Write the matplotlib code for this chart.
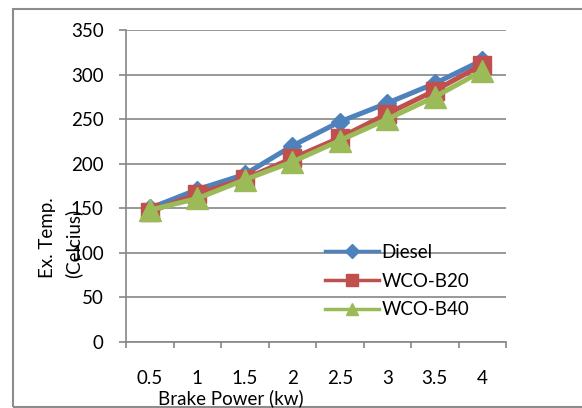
import matplotlib

matplotlib.use("Agg")
import matplotlib.pyplot as plt
from matplotlib.lines import Line2D
from matplotlib.patches import Rectangle
import numpy as np

# Data
brake_power = ["0.5", "1", "1.5", "2", "2.5", "3", "3.5", "4"]
diesel = [150, 171, 188, 220, 247, 268, 290, 316]
wco_b20 = [146, 166, 183, 206, 229, 256, 282, 311]
wco_b40 = [148, 161, 182, 202, 226, 250, 275, 304]
y_ticks = [0, 50, 100, 150, 200, 250, 300, 350]

BLUE = "#4F81BD"
RED = "#C0504D"
GREEN = "#9BBB59"
GRID = "#868686"
FS = 13.5

plt.rcParams["font.family"] = ["Lato", "DejaVu Sans"]

W, H = 582, 408
fig = plt.figure(figsize=(W / 100, H / 100), dpi=100)
fig.patch.set_facecolor("white")

# outer chart border (runs off the right edge in the reference)
fig.add_artist(Rectangle((13 / W, 1 - 407 / H), 1.2, (407 - 9) / H,
                         transform=fig.transFigure, fill=False,
                         edgecolor="#8c8c8c", linewidth=1.5))

ax = fig.add_axes([126 / W, 1 - 342 / H, (506 - 126) / W, (342 - 30) / H])

x = np.arange(len(brake_power))
series = [("Diesel", diesel, BLUE, "D", 9, 7),
          ("WCO-B20", wco_b20, RED, "s", 13, 8.5),
          ("WCO-B40", wco_b40, GREEN, "^", 16, 8)]
handles = []
for name, vals, col, mk, ms, lms in series:
    ax.plot(x, vals, color=col, linewidth=3.6, marker=mk, markersize=ms,
            markeredgecolor=col, zorder=3)
    handles.append(Line2D([], [], color=col, linewidth=2.5, marker=mk,
                          markersize=lms, markeredgecolor=col, label=name))

ax.set_xlim(-0.5, len(brake_power) - 0.5)
ax.set_ylim(0, 350)
ax.set_yticks(y_ticks)
ax.set_xticks(x)
ax.set_xticklabels(brake_power)
ax.set_xticks(np.arange(-0.5, len(brake_power)), minor=True)
ax.tick_params(axis="x", which="major", length=0, pad=20, labelsize=FS)
ax.tick_params(axis="x", which="minor", length=4.5, width=1.2, color=GRID,
               direction="out")
ax.tick_params(axis="y", length=5, width=1.2, color=GRID, labelsize=FS,
               pad=11)

ax.yaxis.grid(True, color=GRID, linewidth=1.2, zorder=0)
ax.set_axisbelow(True)
for s in ("top", "right"):
    ax.spines[s].set_visible(False)
for s in ("left", "bottom"):
    ax.spines[s].set_color(GRID)
    ax.spines[s].set_linewidth(1.2)

# axis titles placed like the original (x title sits left of centre)
fig.text(231 / W, 1 - 398 / H, "Brake Power (kw)", fontsize=FS,
         ha="center", va="center")
fig.text(48 / W, 1 - 278 / H, "Ex. Temp.", rotation=90, fontsize=FS,
         ha="center", va="bottom")
fig.text(73 / W, 1 - 278 / H, "(Celcius)", rotation=90, fontsize=FS,
         ha="center", va="bottom")

leg = ax.legend(handles=handles, loc="upper left",
                bbox_to_anchor=((325 - 126) / 380, (342 - 244) / 312),
                frameon=False, fontsize=FS, handlelength=2.9,
                handletextpad=0.1, labelspacing=0.62, borderaxespad=0,
                borderpad=0)

fig.savefig("out.png", dpi=100, facecolor="white")
